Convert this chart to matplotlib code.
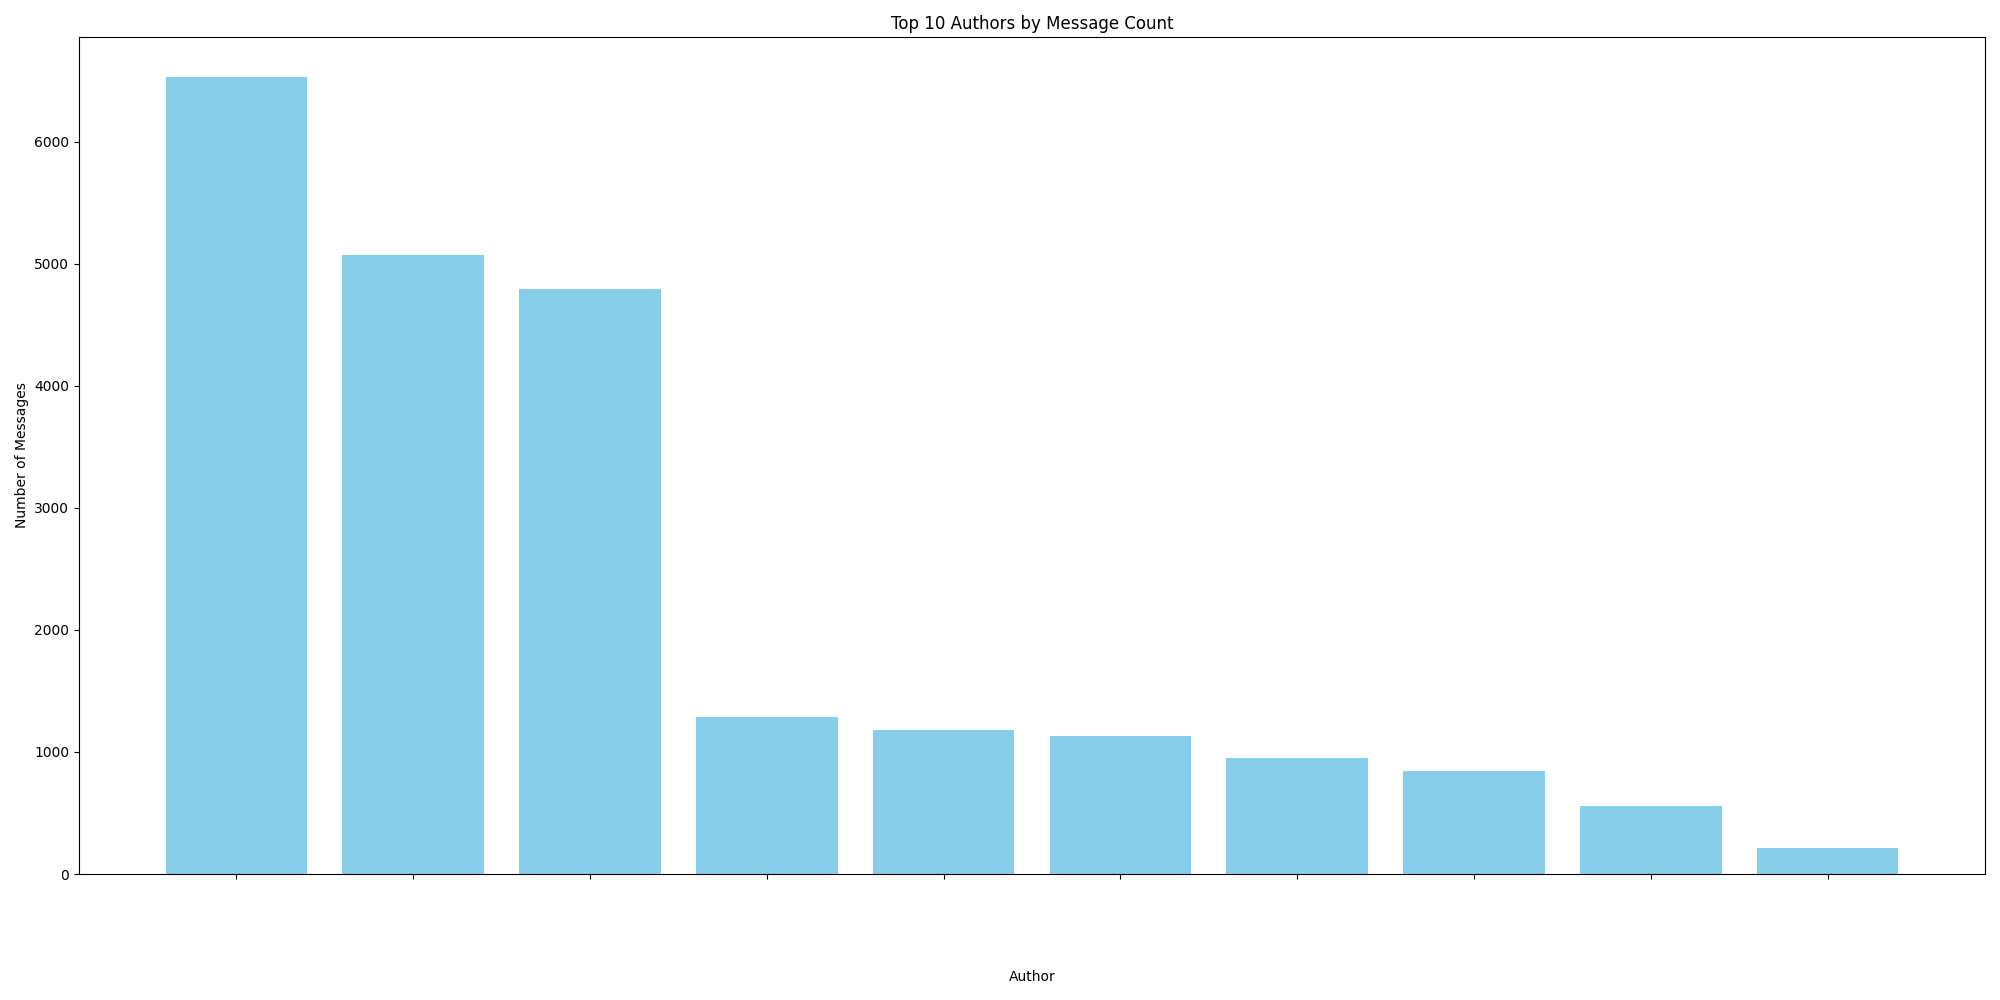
import numpy as np
import matplotlib
matplotlib.use("Agg")
import matplotlib.pyplot as plt

# author names are blurred out in the reference, so tick labels stay empty
authors = ["", "", "", "", "", "", "", "", "", ""]
message_counts = [6533, 5070, 4798, 1286, 1181, 1129, 951, 847, 554, 209]

fig, ax = plt.subplots(figsize=(20, 10), dpi=100)
x = np.arange(len(message_counts))
ax.bar(x, message_counts, color='skyblue')
ax.set_xticks(x)
ax.set_xticklabels(authors, rotation=45, ha='right')
ax.set_title('Top 10 Authors by Message Count')
ax.set_xlabel('Author', labelpad=62)
ax.set_ylabel('Number of Messages')

plt.subplots_adjust(left=0.0395, right=0.9925, top=0.963, bottom=0.126)
plt.savefig('out.png')
